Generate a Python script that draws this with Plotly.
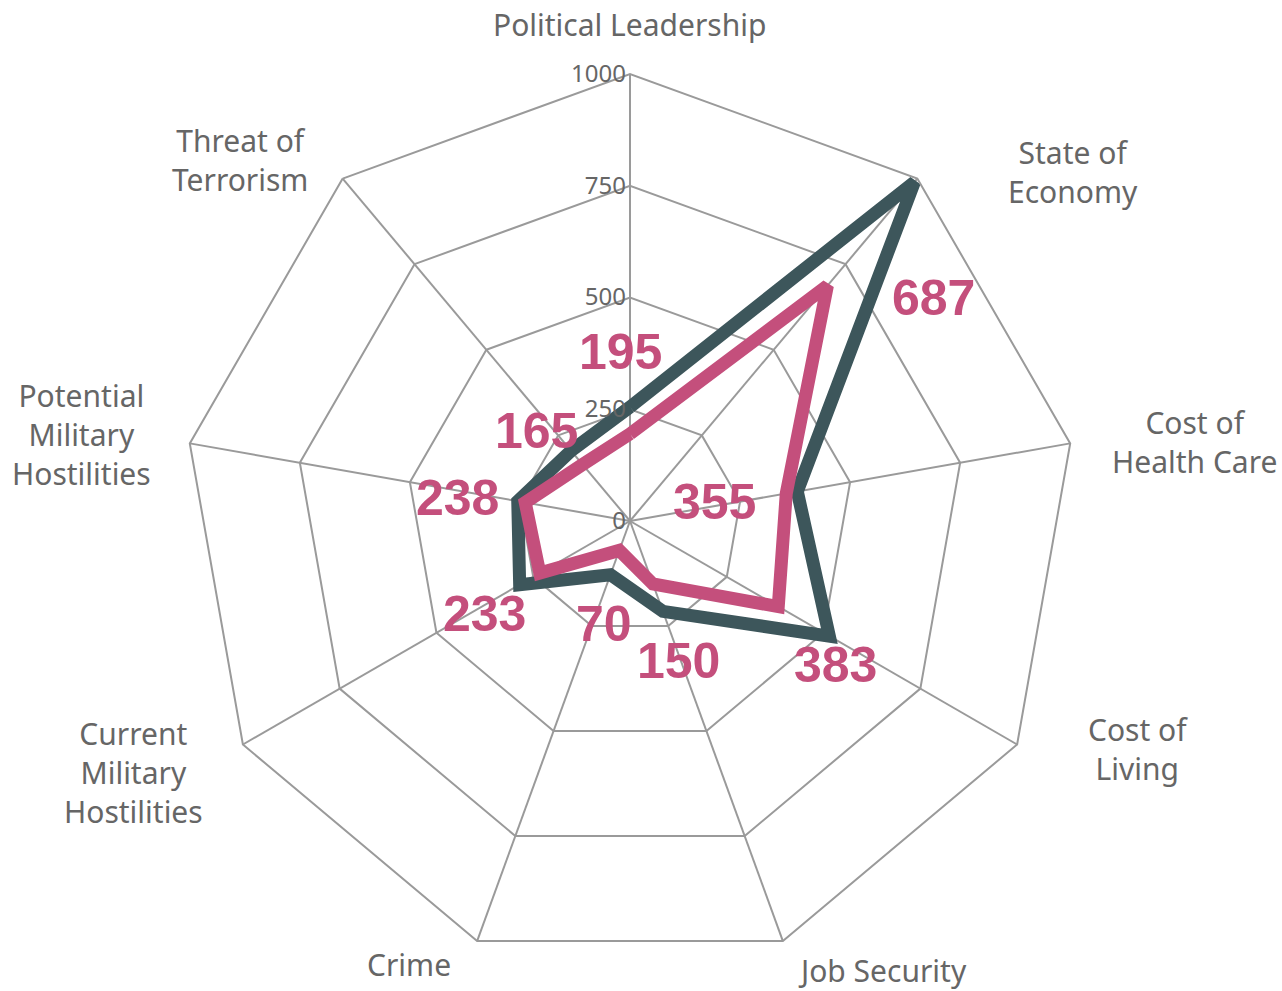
import plotly.graph_objects as go

categories = ["Political Leadership", "State of Economy", "Cost of Health Care",
              "Cost of Living", "Job Security", "Crime",
              "Current Military Hostilities", "Potential Military Hostilities",
              "Threat of Terrorism"]
category_labels = ["Political Leadership", "State of<br>Economy", "Cost of<br>Health Care",
                   "Cost of<br>Living", "Job Security", "Crime",
                   "Current<br>Military<br>Hostilities", "Potential<br>Military<br>Hostilities",
                   "Threat of<br>Terrorism"]
series_dark = [255, 990, 380, 515, 215, 128, 285, 255, 205]
series_pink = [195, 687, 355, 383, 150, 70, 233, 238, 165]
tick_values = [0, 250, 500, 750, 1000]

W, H = 1282, 991
CX, CY, R = 630, 521, 447

DARK = "#3d565b"
PINK = "#c44f7c"
GRID = "#9a9a9a"
TEXT = "#666666"

fig = go.Figure()


def closed(vals):
    return vals + vals[:1]


fig.add_trace(go.Scatterpolar(r=closed(series_dark), theta=closed(categories), mode="lines",
                              line=dict(color=DARK, width=13), hoverinfo="skip"))
fig.add_trace(go.Scatterpolar(r=closed(series_pink), theta=closed(categories), mode="lines",
                              line=dict(color=PINK, width=13), hoverinfo="skip"))

fig.update_layout(
    width=W, height=H,
    margin=dict(l=0, r=0, t=0, b=0),
    paper_bgcolor="white", plot_bgcolor="white",
    showlegend=False,
    polar=dict(
        domain=dict(x=[(CX - R) / W, (CX + R) / W], y=[1 - (CY + R) / H, 1 - (CY - R) / H]),
        bgcolor="white",
        gridshape="linear",
        angularaxis=dict(type="category", categoryarray=categories, direction="clockwise",
                         rotation=90, showticklabels=False, ticks="",
                         gridcolor=GRID, gridwidth=2, showline=True, linecolor=GRID, linewidth=2),
        radialaxis=dict(range=[0, 1000], tickvals=tick_values, angle=90, tickangle=90,
                        side="counterclockwise", showline=False, ticks="", ticksuffix="\u00a0",
                        gridcolor=GRID, gridwidth=2,
                        tickfont=dict(family="Noto Sans", size=24, color=TEXT)),
    ),
)

cat_pos = [(629, 24), (1073, 172), (1194, 442), (1138, 749), (882, 970),
           (409, 964), (133, 772), (81, 434), (240, 160)]
for lab, (x, y) in zip(category_labels, cat_pos):
    fig.add_annotation(text=lab, x=x / W, y=1 - y / H, xref="paper", yref="paper",
                       xanchor="center", yanchor="middle", showarrow=False, align="center",
                       font=dict(family="Noto Sans", size=30, color=TEXT))

# value labels for the pink series
val_pos = [(620, 352), (933, 298), (714, 502), (836, 665), (678, 661),
           (604, 624), (484, 614), (457, 498), (536, 431)]
for v, (x, y) in zip(series_pink, val_pos):
    fig.add_annotation(text=f"<b>{v}</b>", x=x / W, y=1 - y / H, xref="paper", yref="paper",
                       xanchor="center", yanchor="middle", showarrow=False,
                       font=dict(family="Liberation Sans", size=50, color=PINK))

fig.write_html("out.html", config={"displayModeBar": False},
               post_script="document.body.style.margin='0px';")
